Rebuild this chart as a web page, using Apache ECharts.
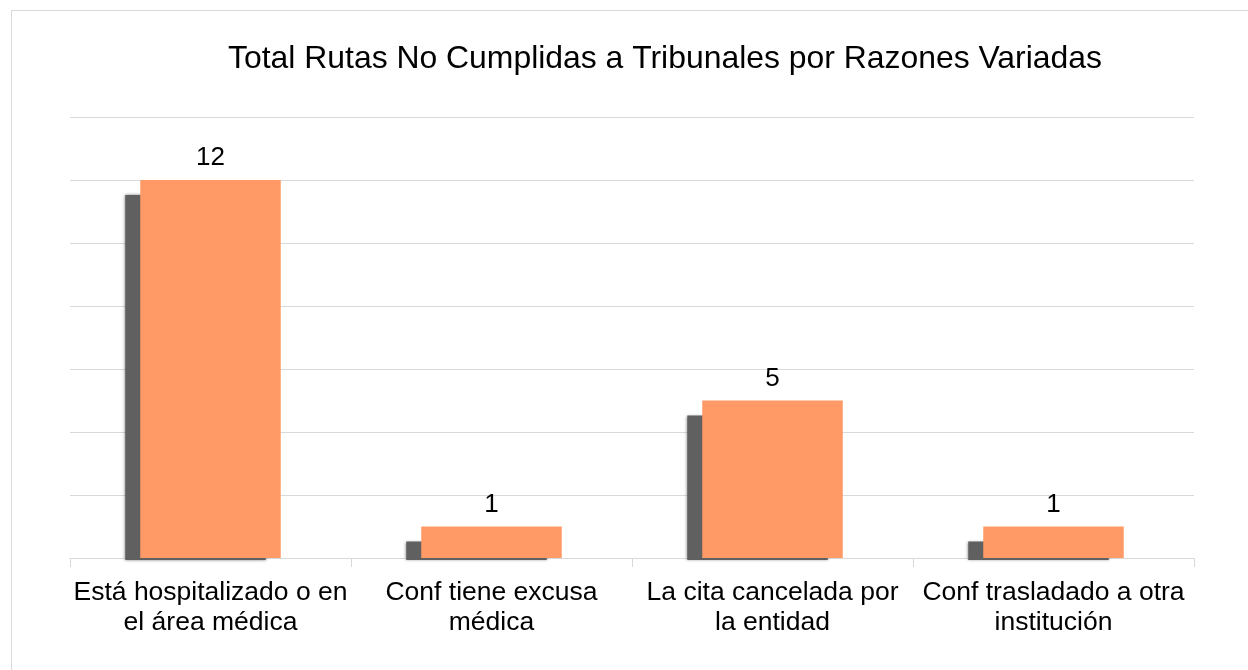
<!DOCTYPE html>
<html>
<head>
<meta charset="utf-8">
<script src="https://cdn.jsdelivr.net/npm/echarts@6/dist/echarts.min.js"></script>
<style>
	html, body { margin: 0; padding: 0; background: #fff; }
	#frame {
		position: absolute; left: 11px; top: 10px; width: 1260px; height: 700px;
		border: 1px solid #d9d9d9; box-sizing: border-box;
	}
	#chart { position: absolute; left: 0; top: 0; width: 1248px; height: 670px; }
</style>
</head>
<body>
<div id="frame"></div>
<div id="chart"></div>
<script>
	// datos del grafico
	var categories = [
		'Está hospitalizado o en\nel área médica',
		'Conf tiene excusa\nmédica',
		'La cita cancelada por\nla entidad',
		'Conf trasladado a otra\ninstitución'
	];
	var values = [12, 1, 5, 1];

	var myChart = echarts.init(document.getElementById('chart'));
	var font = 'Liberation Sans, Arial, sans-serif';

	var option = {
		animation: false,
		title: {
			text: 'Total Rutas No Cumplidas a Tribunales por Razones Variadas',
			left: 660,
			textAlign: 'center',
			top: 38,
			textStyle: { fontFamily: font, fontSize: 31.9, fontWeight: 'normal', color: '#000' }
		},
		grid: { left: 70, right: 54, top: 117, bottom: 112 },
		xAxis: {
			type: 'category',
			data: categories,
			axisLine: { lineStyle: { color: '#d9d9d9', width: 1 } },
			axisTick: { show: true, length: 9, lineStyle: { color: '#d9d9d9' } },
			axisLabel: {
				fontFamily: font, fontSize: 26.5, color: '#000',
				lineHeight: 30, margin: 20, interval: 0
			}
		},
		yAxis: {
			type: 'value',
			min: 0, max: 14, interval: 2,
			axisLabel: { show: false },
			axisLine: { show: false },
			axisTick: { show: false },
			splitLine: { lineStyle: { color: '#d9d9d9', width: 1 } }
		},
		series: [{
			// sombra de las barras
			type: 'custom',
			z: 1,
			silent: true,
			data: values.map(function(v, i) { return [i, v]; }),
			renderItem: function(params, api) {
				var top = api.coord([api.value(0), api.value(1)]);
				var base = api.coord([api.value(0), 0]);
				var w = api.size([1, 0])[0] * 0.5;
				return {
					type: 'rect',
					shape: { x: top[0] - w / 2 - 15, y: top[1] + 15, width: w, height: base[1] - top[1] - 13 },
					style: { fill: '#606060', shadowBlur: 3, shadowColor: 'rgba(0,0,0,0.5)' }
				};
			}
		}, {
			type: 'bar',
			z: 2,
			barWidth: '50%',
			data: values,
			itemStyle: { color: '#ff9966' },
			label: {
				show: true, position: 'top', distance: 9,
				fontFamily: font, fontSize: 26, color: '#000'
			}
		}]
	};
	myChart.setOption(option);
</script>
</body>
</html>
